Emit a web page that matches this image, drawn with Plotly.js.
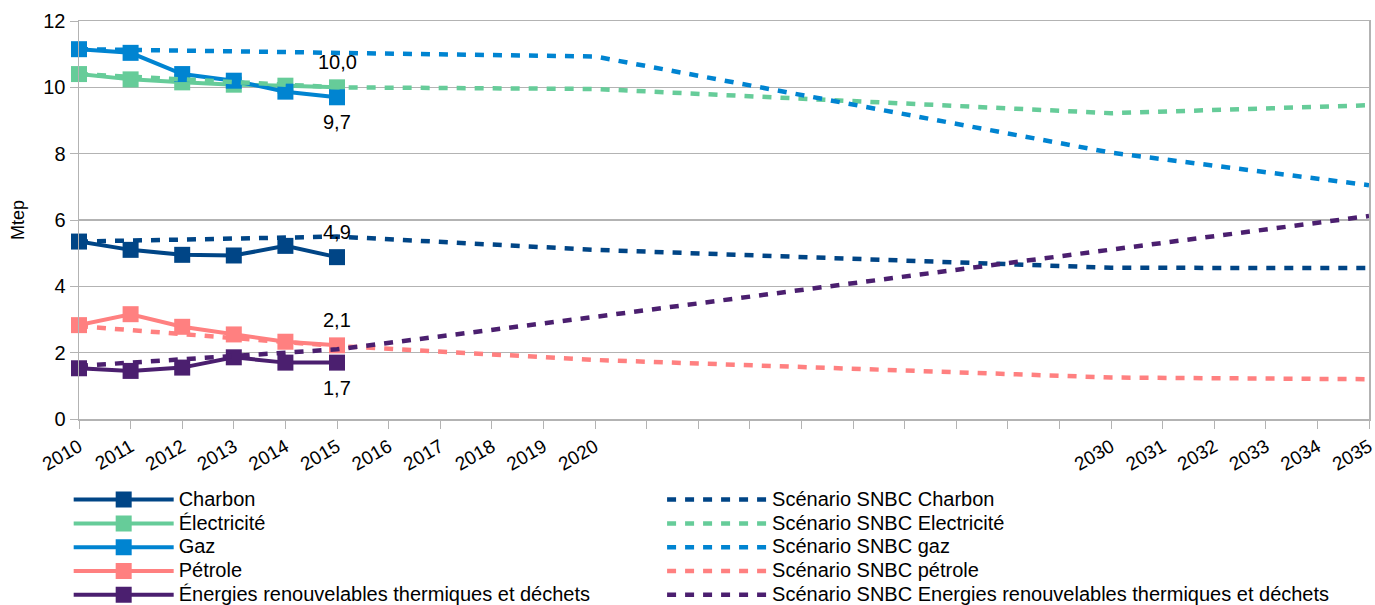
<!DOCTYPE html>
<html>
<head>
<meta charset="utf-8">
<script src="https://cdn.plot.ly/plotly-3.0.1.min.js"></script>
<style>html,body{margin:0;padding:0;background:#fff;}#chart{width:1375px;height:605px;}</style>
</head>
<body>
<div id="chart"></div>
<script>
// Historical years
const histYears = [2010, 2011, 2012, 2013, 2014, 2015];
const charbon = [5.35, 5.1, 4.95, 4.93, 5.22, 4.88];
const electricite = [10.4, 10.24, 10.15, 10.08, 10.05, 10.0];
const gaz = [11.15, 11.04, 10.4, 10.2, 9.87, 9.7];
const petrole = [2.83, 3.16, 2.78, 2.55, 2.33, 2.22];
const enr = [1.53, 1.45, 1.55, 1.86, 1.7, 1.7];

// Scenario SNBC years
const snbcYears = [2010, 2015, 2020, 2030, 2035];
const snbcCharbon = [5.35, 5.5, 5.1, 4.56, 4.55];
const snbcElectricite = [10.4, 10.0, 9.95, 9.22, 9.46];
const snbcGaz = [11.15, 11.05, 10.93, 8.03, 7.05];
const snbcPetrole = [2.8, 2.2, 1.78, 1.25, 1.2];
const snbcEnr = [1.6, 2.1, 3.08, 5.09, 6.12];

// Series names
const names = {
  charbon: "Charbon", electricite: "Électricité", gaz: "Gaz", petrole: "Pétrole",
  enr: "Énergies renouvelables thermiques et déchets",
  sCharbon: "Scénario SNBC Charbon", sElectricite: "Scénario SNBC Electricité",
  sGaz: "Scénario SNBC gaz", sPetrole: "Scénario SNBC pétrole",
  sEnr: "Scénario SNBC Energies renouvelables thermiques et déchets"
};

// Data labels at 2015 (text, above/below the point)
const labelText = {charbon: "4,9", electricite: "10,0", gaz: "9,7", petrole: "2,1", enr: "1,7"};
const labelAbove = {charbon: true, electricite: true, gaz: false, petrole: true, enr: false};

// Axis ticks
const tickYears = [];
for (let y = 2010; y <= 2035; y++) tickYears.push(y);
const labelledYears = [2010,2011,2012,2013,2014,2015,2016,2017,2018,2019,2020,2030,2031,2032,2033,2034,2035];
const tickText = tickYears.map(y => labelledYears.includes(y) ? String(y) : "");

const colors = {
  charbon: "#004586",
  electricite: "#66cc99",
  gaz: "#0084d1",
  petrole: "#ff8080",
  enr: "#4b1f6f"
};

const FONT = "Liberation Sans, Arial, sans-serif";
function legendName(n) { return '<span style="font-size:20px">' + n + '</span>'; }

function solid(name, y, color) {
  return {
    type: "scatter", mode: "lines+markers", name: legendName(name),
    x: histYears, y: y,
    line: {color: color, width: 4},
    marker: {symbol: "square", size: 16, color: color},
    legend: "legend", hoverinfo: "x+y", cliponaxis: false
  };
}
function dashed(name, y, color) {
  return {
    type: "scatter", mode: "lines", name: legendName(name),
    x: snbcYears, y: y,
    line: {color: color, width: 4.5, dash: "9px,9px"},
    legend: "legend2", hoverinfo: "x+y"
  };
}

const data = [
  solid(names.charbon, charbon, colors.charbon),
  solid(names.electricite, electricite, colors.electricite),
  solid(names.gaz, gaz, colors.gaz),
  solid(names.petrole, petrole, colors.petrole),
  solid(names.enr, enr, colors.enr),
  dashed(names.sCharbon, snbcCharbon, colors.charbon),
  dashed(names.sElectricite, snbcElectricite, colors.electricite),
  dashed(names.sGaz, snbcGaz, colors.gaz),
  dashed(names.sPetrole, snbcPetrole, colors.petrole),
  dashed(names.sEnr, snbcEnr, colors.enr)
];

const seriesForLabels = {charbon: charbon, electricite: electricite, gaz: gaz, petrole: petrole, enr: enr};
const annotations = Object.keys(labelText).map(k => {
  const vals = seriesForLabels[k];
  return {
    x: histYears[histYears.length - 1], y: vals[vals.length - 1],
    xref: "x", yref: "y", text: labelText[k], showarrow: false,
    yshift: labelAbove[k] ? 25 : -25,
    font: {family: FONT, size: 20, color: "#000"}
  };
});

const legendCommon = {
  orientation: "v", xanchor: "left", y: -0.16, yanchor: "top",
  itemwidth: 100, font: {size: 16, family: FONT},
  tracegroupgap: 0, traceorder: "normal", bgcolor: "rgba(0,0,0,0)"
};

const layout = {
  width: 1375, height: 605,
  margin: {l: 79, r: 6, t: 21, b: 186, autoexpand: false},
  paper_bgcolor: "#fff", plot_bgcolor: "#fff",
  font: {family: FONT, size: 20, color: "#000"},
  showlegend: true,
  annotations: annotations,
  xaxis: {
    range: [2010, 2035], type: "linear",
    tickmode: "array", tickvals: tickYears, ticktext: tickText,
    tickangle: -30, ticks: "outside", ticklen: 8, tickcolor: "#b3b3b3",
    showgrid: false, zeroline: false, ticklabeloverflow: "allow",
    showline: true, linecolor: "#b3b3b3", linewidth: 1.5, mirror: true,
    tickfont: {size: 19}
  },
  yaxis: {
    range: [0, 12], dtick: 2, tick0: 0,
    ticks: "outside", ticklen: 8, tickcolor: "#b3b3b3",
    showgrid: true, gridcolor: "#b3b3b3", gridwidth: 1.5, zeroline: false,
    showline: true, linecolor: "#b3b3b3", linewidth: 1.5, mirror: true,
    tickfont: {size: 20},
    title: {text: "Mtep", font: {size: 18}, standoff: 14}
  },
  legend: Object.assign({}, legendCommon, {x: -0.008}),
  legend2: Object.assign({}, legendCommon, {x: 0.452})
};

Plotly.newPlot("chart", data, layout, {displayModeBar: false, staticPlot: true});
</script>
</body>
</html>
